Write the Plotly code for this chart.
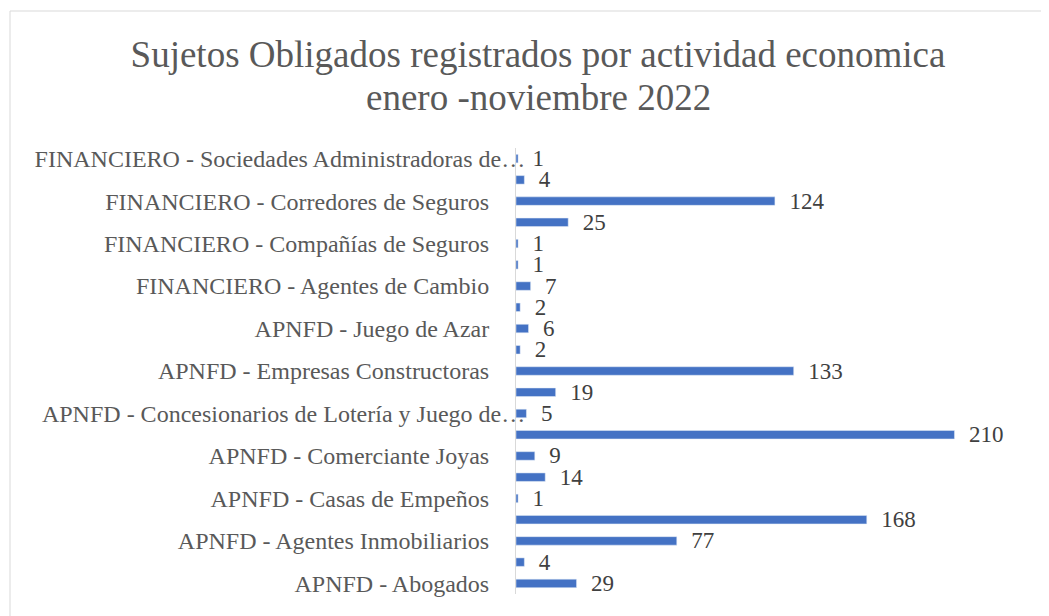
import plotly.graph_objects as go

# Categories listed bottom -> top
categories = [
    "APNFD - Abogados",
    "APNFD - Agentes Aduanales",
    "APNFD - Agentes Inmobiliarios",
    "APNFD - Auditores",
    "APNFD - Casas de Empeños",
    "APNFD - Casinos",
    "APNFD - Comerciante Joyas",
    "APNFD - Comerciante Vehículos",
    "APNFD - Concesionarios de Lotería y Juego de…",
    "APNFD - Contadores",
    "APNFD - Empresas Constructoras",
    "APNFD - Fideicomisos",
    "APNFD - Juego de Azar",
    "APNFD - Notarios",
    "FINANCIERO - Agentes de Cambio",
    "FINANCIERO - Bancos",
    "FINANCIERO - Compañías de Seguros",
    "FINANCIERO - Cooperativas",
    "FINANCIERO - Corredores de Seguros",
    "FINANCIERO - Puestos de Bolsa",
    "FINANCIERO - Sociedades Administradoras de…",
]
values = [29, 4, 77, 168, 1, 14, 9, 210, 5, 19, 133, 2, 6, 2, 7, 1, 1, 25, 124, 4, 1]

# Only every other category label is shown (as in the original)
shown_labels = categories[::2]

title_line1 = "Sujetos Obligados registrados por actividad economica"
title_line2 = "enero -noviembre 2022"

OFF = 8  # page body margin
W, H = 1049 - OFF, 616 - OFF
L = 516 - OFF
T = 148 - OFF
R = W - (1038 - OFF)
B = H - (594 - OFF)
pw = W - L - R
ph = H - T - B

# truncated labels run up to the axis; full labels keep a gap (transparent pad)
PAD = "<span style='color:rgba(0,0,0,0)'>___</span>"
tick_text = [s if s.endswith("…") else s + PAD for s in shown_labels]

fig = go.Figure(go.Bar(
    y=categories,
    x=values,
    orientation="h",
    marker=dict(color="#4472C4"),
    width=0.4,
    text=values,
    texttemplate="\u00a0\u00a0%{x}",
    textposition="outside",
    constraintext="none",
    cliponaxis=False,
    textfont=dict(family="Liberation Serif", size=23, color="#404040"),
    hoverinfo="x+y",
))

title_font = dict(family="Liberation Serif", size=37, color="#595959")
fig.update_layout(
    width=W, height=H,
    margin=dict(l=L, r=R, t=T, b=B, autoexpand=False),
    paper_bgcolor="white",
    plot_bgcolor="white",
    showlegend=False,
    title=dict(
        text=title_line1,
        font=title_font,
        x=(538 - OFF) / W, xanchor="center", xref="container",
        y=1 - (54 - OFF) / H, yanchor="middle", yref="container",
    ),
    annotations=[dict(
        text=title_line2, font=title_font, showarrow=False,
        xref="paper", yref="paper",
        x=(538 - 516) / pw, xanchor="center",
        y=(594 - 97) / ph, yanchor="middle",
    )],
    xaxis=dict(range=[0, 250], visible=False, showgrid=False, zeroline=False),
    yaxis=dict(
        type="category",
        tickmode="array",
        tickvals=shown_labels,
        ticktext=tick_text,
        showline=True, linecolor="#d9d9d9", linewidth=1,
        ticks="", ticklen=0, showgrid=False,
        tickfont=dict(family="Liberation Serif", size=24, color="#595959"),
        ticklabelstandoff=-15,
        automargin=False,
    ),
    shapes=[dict(
        type="rect", xref="paper", yref="paper",
        x0=(10 - 516) / pw, x1=(1070 - 516) / pw,
        y0=(594 - 640) / ph, y1=(594 - 11) / ph,
        line=dict(color="#d9d9d9", width=1), fillcolor="rgba(0,0,0,0)",
        layer="below",
    )],
)

fig.write_html("out.html")
